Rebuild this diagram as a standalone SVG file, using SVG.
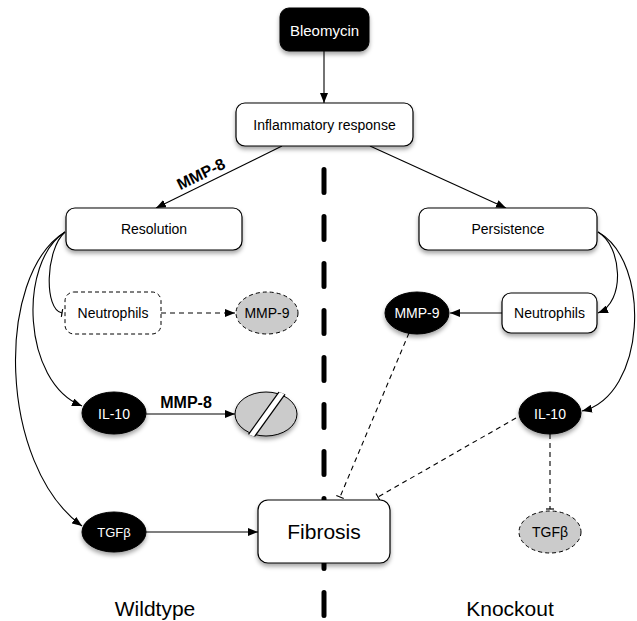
<svg xmlns="http://www.w3.org/2000/svg" width="637" height="621" viewBox="0 0 637 621">
<defs>
<filter id="sh" x="-20%" y="-20%" width="140%" height="160%">
<feDropShadow dx="0" dy="3" stdDeviation="2" flood-color="#000" flood-opacity="0.35"/>
</filter>
<marker id="arr" viewBox="0 0 10 8" refX="10" refY="4" markerWidth="10" markerHeight="8" markerUnits="userSpaceOnUse" orient="auto">
<path d="M0,0 L10,4 L0,8 z" fill="#000"/>
</marker>
<marker id="tee" viewBox="0 -5 2 10" refX="1" refY="0" markerWidth="2" markerHeight="10" markerUnits="userSpaceOnUse" orient="auto">
<path d="M1,-4 L1,4" stroke="#000" stroke-width="1.2"/>
</marker>
<clipPath id="brokenClip"><ellipse cx="266" cy="414" rx="33" ry="24"/></clipPath>
</defs>
<style>
text{font-family:"Liberation Sans",Arial,sans-serif;text-anchor:middle;dominant-baseline:central;}
.box{fill:#fff;stroke:#000;stroke-width:1.2;filter:url(#sh);}
.blk{fill:#000;stroke:#000;stroke-width:1;filter:url(#sh);}
.grey{fill:#cbcbcb;stroke:#000;stroke-width:1;stroke-dasharray:4 3;}
.dbox{fill:#fff;stroke:#000;stroke-width:1;stroke-dasharray:4 3;}
.t{font-size:14px;fill:#000;}
.w{font-size:14px;fill:#fff;}
.c{fill:none;stroke:#000;stroke-width:1.1;}
.d{fill:none;stroke:#000;stroke-width:1.1;stroke-dasharray:5 4;}
.lab{font-size:16px;font-weight:bold;fill:#000;}
.big{font-size:21px;fill:#000;}
</style>

<g id="separator">
<line x1="324" y1="169.5" x2="324" y2="640" stroke="#000" stroke-width="5" stroke-linecap="round" stroke-dasharray="23 24"/>
</g>

<g id="connectors">
<line class="c" x1="324" y1="51" x2="324" y2="103" marker-end="url(#arr)"/>
<line class="c" x1="282" y1="146" x2="156" y2="208" marker-end="url(#arr)"/>
<line class="c" x1="370" y1="146" x2="506" y2="208" marker-end="url(#arr)"/>
<path class="c" d="M65,232 C45,250 44,310 62,313" marker-end="url(#tee)"/>
<path class="c" d="M65,232 C18,262 22,382 82,406" marker-end="url(#arr)"/>
<path class="c" d="M65,232 C-5,275 -2,465 82,526" marker-end="url(#arr)"/>
<line class="d" x1="161" y1="313" x2="235" y2="313" marker-end="url(#arr)"/>
<line class="c" x1="146" y1="414" x2="235" y2="414" marker-end="url(#arr)"/>
<line class="c" x1="146" y1="532" x2="258" y2="532" marker-end="url(#arr)"/>
<path class="c" d="M598,232 C622,246 626,302 598,313" marker-end="url(#arr)"/>
<path class="c" d="M598,232 C652,262 646,396 582,411" marker-end="url(#arr)"/>
<line class="c" x1="502" y1="313" x2="450" y2="313" marker-end="url(#arr)"/>
<line class="d" x1="409" y1="333" x2="340" y2="497" marker-end="url(#tee)"/>
<line class="d" x1="516" y1="418" x2="378" y2="497" marker-end="url(#tee)"/>
<line class="d" x1="550" y1="434" x2="550" y2="509" marker-end="url(#tee)"/>
</g>

<g id="label-mmp8-top">
<text class="lab" x="201" y="174" transform="rotate(-26 201 174)">MMP-8</text>
</g>
<g id="label-mmp8-il10">
<text class="lab" x="186" y="402">MMP-8</text>
</g>

<g id="bleomycin">
<rect class="blk" x="280" y="8" width="89" height="43" rx="9"/>
<text class="w" x="324.5" y="30" style="font-size:15px">Bleomycin</text>
</g>
<g id="inflammatory">
<rect class="box" x="236" y="103" width="177" height="43" rx="9"/>
<text class="t" x="324.5" y="125">Inflammatory response</text>
</g>
<g id="resolution">
<rect class="box" x="66" y="208" width="176" height="42" rx="9"/>
<text class="t" x="154" y="229">Resolution</text>
</g>
<g id="persistence">
<rect class="box" x="419" y="208" width="178" height="42" rx="9"/>
<text class="t" x="508" y="229">Persistence</text>
</g>
<g id="neutrophils-wt">
<rect class="dbox" x="65" y="292" width="96" height="42" rx="9"/>
<text class="t" x="113" y="313">Neutrophils</text>
</g>
<g id="mmp9-wt">
<ellipse class="grey" cx="267" cy="313" rx="31" ry="21"/>
<text class="t" x="267" y="313">MMP-9</text>
</g>
<g id="neutrophils-ko">
<rect class="box" x="502" y="293" width="95" height="40" rx="9"/>
<text class="t" x="549.5" y="313">Neutrophils</text>
</g>
<g id="mmp9-ko">
<ellipse class="blk" cx="417" cy="313" rx="32" ry="21"/>
<text class="w" x="417" y="313">MMP-9</text>
</g>
<g id="il10-wt">
<ellipse class="blk" cx="114" cy="413" rx="32" ry="21"/>
<text class="w" x="114" y="414">IL-10</text>
</g>
<g id="degraded">
<ellipse cx="266" cy="414" rx="31" ry="22" fill="#cbcbcb" stroke="#000" stroke-width="1" filter="url(#sh)"/>
<g clip-path="url(#brokenClip)">
<line x1="244" y1="446" x2="290" y2="382" stroke="#000" stroke-width="7.5"/>
<line x1="244" y1="446" x2="290" y2="382" stroke="#fff" stroke-width="5"/>
</g>
</g>
<g id="tgfb-wt">
<ellipse class="blk" cx="114" cy="532" rx="32" ry="20"/>
<text class="w" x="114" y="532" style="font-size:13px">TGFβ</text>
</g>
<g id="fibrosis">
<rect class="box" x="258" y="500" width="132" height="63" rx="10"/>
<text class="big" x="324" y="531">Fibrosis</text>
</g>
<g id="il10-ko">
<ellipse class="blk" cx="550" cy="413" rx="31" ry="21"/>
<text class="w" x="550" y="414">IL-10</text>
</g>
<g id="tgfb-ko">
<ellipse class="grey" cx="550" cy="532" rx="31" ry="21"/>
<text class="t" x="550" y="532">TGFβ</text>
</g>
<g id="titles">
<text class="big" x="155" y="608">Wildtype</text>
<text class="big" x="510" y="608">Knockout</text>
</g>
</svg>
